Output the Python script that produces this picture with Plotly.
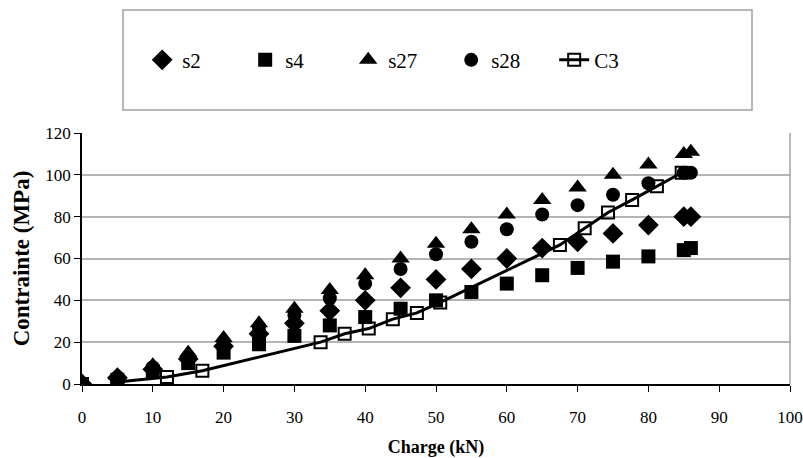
import plotly.graph_objects as go

x_s = [0, 5, 10, 15, 20, 25, 30, 35, 40, 45, 50, 55, 60, 65, 70, 75, 80, 85, 86]
s2 = [0, 3, 7, 12, 18, 24, 29, 35, 40, 46, 50, 55, 60, 65, 68, 72, 76, 80, 80]
s4 = [0, 2, 6, 10, 15, 19, 23, 28, 32, 36, 40, 44, 48, 52, 55.5, 58.5, 61, 64, 65]
s27 = [0, 4, 9, 15, 22, 29, 36, 45, 52, 60, 67, 74, 81, 88, 94, 100, 105, 110, 111]
s28 = [0, 3, 8, 13, 20, 27, 33, 41, 48, 55, 62, 68, 74, 81, 85.5, 90.5, 96, 101, 101]

x_c3 = [5, 12, 17, 33.7, 37.1, 40.5, 43.9, 47.3, 50.6, 67.5, 71, 74.3, 77.7, 81.2, 84.7]
c3 = [1, 3.3, 6.3, 20, 24, 26.5, 31, 34, 39, 66.5, 74.5, 82, 88, 94.5, 101]

FONT = "Liberation Serif"

fig = go.Figure()
fig.add_trace(go.Scatter(
    x=x_c3, y=c3, name="C3", mode="lines+markers",
    line=dict(color="black", width=3),
    marker=dict(symbol="square-open", size=12, color="black", line=dict(width=2)),
    legendrank=5,
))
fig.add_trace(go.Scatter(x=x_s, y=s2, name="s2", mode="markers",
                         marker=dict(symbol="diamond", size=16, color="black"), legendrank=1))
fig.add_trace(go.Scatter(x=x_s, y=s4, name="s4", mode="markers",
                         marker=dict(symbol="square", size=14, color="black"), legendrank=2))
fig.add_trace(go.Scatter(x=x_s, y=s27, name="s27", mode="markers",
                         marker=dict(symbol="triangle-up", size=16, color="black"), legendrank=3))
fig.add_trace(go.Scatter(x=x_s, y=s28, name="s28", mode="markers",
                         marker=dict(symbol="circle", size=14, color="black"), legendrank=4))

fig.update_layout(
    width=803, height=458,
    margin=dict(l=82, r=13, t=133, b=74, autoexpand=False),
    paper_bgcolor="white", plot_bgcolor="white",
    font=dict(family=FONT, size=17, color="black"),
    showlegend=True,
    legend=dict(
        orientation="h", x=0.085, xanchor="left", y=1.29, yanchor="middle",
        font=dict(family=FONT, size=21), entrywidth=58, entrywidthmode="pixels",
        bgcolor="rgba(0,0,0,0)", traceorder="normal",
    ),
    xaxis=dict(
        range=[0, 100], dtick=10, tick0=0, showgrid=False, zeroline=False,
        showline=True, linecolor="black", linewidth=1.5, automargin=False,
        ticks="outside", ticklen=6, tickcolor="black", ticklabelstandoff=11,
        tickfont=dict(family=FONT, size=17),
        title=dict(text="<b>Charge (kN)</b>", font=dict(family=FONT, size=18), standoff=14),
    ),
    yaxis=dict(
        range=[0, 120], dtick=20, tick0=0, showgrid=True, gridcolor="#b4b4b4", gridwidth=1.5,
        zeroline=False, showline=True, linecolor="black", linewidth=1.5, automargin=False,
        ticks="outside", ticklen=6, tickcolor="black",
        tickfont=dict(family=FONT, size=17),
        title=dict(text="<b>Contrainte (MPa)</b>", font=dict(family=FONT, size=23), standoff=9),
    ),
    shapes=[
        dict(type="rect", xref="paper", yref="paper",
             x0=(123 - 82) / 708, x1=(752 - 82) / 708,
             y0=(384 - 110) / 251, y1=(384 - 10) / 251,
             line=dict(color="#a0a0a0", width=1.5), fillcolor="rgba(0,0,0,0)", layer="below"),
        dict(type="line", xref="paper", yref="paper", x0=1, x1=1, y0=0, y1=1,
             line=dict(color="#a0a0a0", width=1.5)),
    ],
)

fig.write_html("out.html")
